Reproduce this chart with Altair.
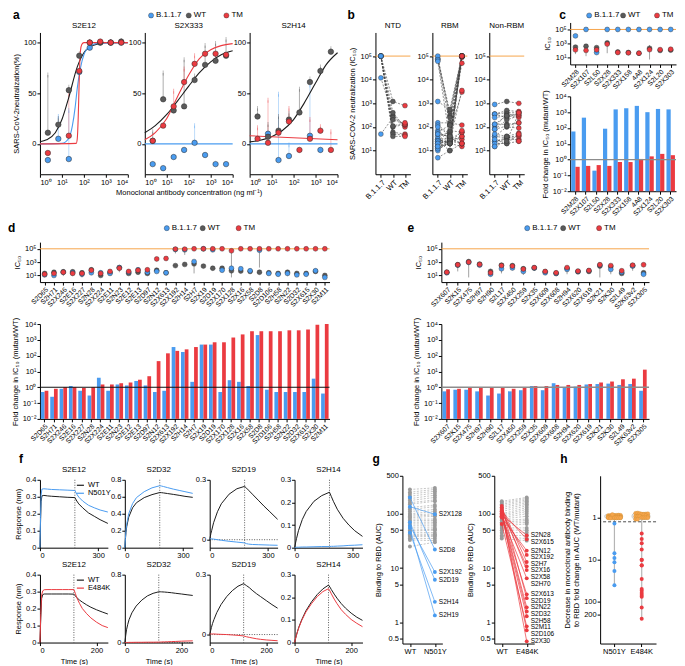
import math
import altair as alt
import pandas as pd

FONT = "Liberation Sans"
BLUE = "#4a9cf0"; RED = "#eb3b41"; GREY = "#5a5a5a"; BLACK = "#1c1c1c"
ORANGE = "#f6a54b"; LGREY = "#a8a8a8"
VAR = ["B.1.1.7", "WT", "TM"]
FILL = alt.Scale(domain=VAR, range=[BLUE, GREY, RED])
STROKE = alt.Scale(domain=VAR, range=[BLUE, BLACK, RED])
POW = "'10' + (datum.value < 1 ? '⁻' : '') + ['⁰','¹','²','³','⁴','⁵'][abs(round(log(datum.value) / LN10))]"
ONE = pd.DataFrame({"r": [0]})  # single row for reference rules

# ---------------- panel a -----------------
A_MABS = ["S2E12", "S2X333", "S2H14"]
A_CONC = [2.29, 6.86, 20.6, 61.7, 185, 556, 1667, 5000]
A_WT = {"S2E12": [11, 19, 53, 87, 100, 100, 100, 101],
        "S2X333": [3, 44, 33, 37, 63, 78, 82, 87],
        "S2H14": [27, 7, 13, 24, 31, 61, 72, 91]}
A_WT_HI = {"S2E12": [68, 25, 56, 89, 101, 101, 101, 102],
           "S2X333": [12, 70, 36, 83, 67, 97, 99, 103],
           "S2H14": [35, 19, 27, 30, 54, 64, 76, 94]}
A_B = {"S2E12": [-16, 5, -15, 71, 95, 100, 100, 100],
       "S2X333": [-20, -24, -13, -6, 1, -11, -20, -20],
       "S2H14": [None, 10, -16, -12, None, 8, -6, None]}
A_B_HI = {"S2E12": [-16, 27, 33, 71, 95, 100, 100, 100],
          "S2X333": [-20, -24, -13, -6, 18, -11, -20, -20],
          "S2H14": [None, 10, 49, -1, None, 58, -6, None]}
A_TM = {"S2E12": [-9, None, 8, 72, 100, 101, 100, 100],
        "S2X333": [3, 18, 37, 61, 79, 89, 89, 88],
        "S2H14": [5, 1, 11, 22, -6, 5, 13, -6]}
A_TM_HI = {"S2E12": [-9, None, 49, 72, 100, 101, 100, 100],
           "S2X333": [3, 18, 52, 74, 87, 89, 89, 88],
           "S2H14": [16, 43, 11, 35, -6, 24, 17, 12]}
A_CURVES = {
    ("S2E12", "WT"): ([1, 2, 5, 10, 20, 50, 100, 200, 500, 1000, 10000],
                      [2, 4, 11, 24, 45, 76, 90, 96, 99, 100, 100]),
    ("S2E12", "B.1.1.7"): ([1, 10, 20, 30, 40, 50, 70, 100, 200, 500, 10000],
                           [0, 0.5, 5, 18, 36, 55, 75, 88, 97, 99.5, 100]),
    ("S2E12", "TM"): ([1, 45, 50, 55, 60, 65, 70, 80, 100, 10000],
                      [0, 0.5, 5, 25, 55, 80, 92, 98, 100, 100]),
    ("S2X333", "WT"): ([1, 3, 10, 30, 100, 300, 1000, 3000, 10000],
                       [11, 18, 29, 42, 57, 70, 81, 88, 92]),
    ("S2X333", "TM"): ([1, 3, 10, 30, 100, 300, 1000, 3000, 10000],
                       [4, 11, 25, 46, 68, 84, 93, 97, 99]),
    ("S2X333", "B.1.1.7"): ([1, 10000], [0, 0]),
    ("S2H14", "WT"): ([1, 3, 10, 30, 100, 300, 1000, 3000, 10000],
                      [2, 3.5, 7, 13, 24, 40, 60, 78, 90]),
    ("S2H14", "TM"): ([1, 10000], [8, 4]),
    ("S2H14", "B.1.1.7"): ([1, 10000], [0, 0]),
}

rows = []
for m in A_MABS:
    for v, vals, his in (("B.1.1.7", A_B, A_B_HI), ("WT", A_WT, A_WT_HI), ("TM", A_TM, A_TM_HI)):
        for c, p, h in zip(A_CONC, vals[m], his[m]):
            if p is not None:
                rows.append({"mab": m, "variant": v, "conc": c, "pct": p, "hi": h})
A_PTS = pd.DataFrame(rows)
rows = []
for (m, v), (xs, ys) in A_CURVES.items():
    for c, p in zip(xs, ys):
        rows.append({"mab": m, "variant": v, "conc": c, "pct": p})
A_CUR = pd.DataFrame(rows)

# ---------------- panel c (NTD) -----------------
C_AB = ["S2M28", "S2X107", "S2L50", "S2X28", "S2X333", "S2X158", "4A8", "S2X124", "S2L20", "S2X303"]
C_B = [1.2e4, 1e5, 50, 1e5, 1e5, 1e5, 1e5, 1e5, 1e5, 1e5]
C_WT = [300, 400, 250, 1200, 60, 50, 40, 200, 100, 110]
C_TM = [120, 100, 120, 800, 50, 45, 40, 130, 130, 150]
C_FB = [60, 450, 0.2, 90, 1500, 1800, 2500, 1000, 1600, 1500]
C_FT = [0.35, 0.4, 0.45, 0.4, 0.7, 0.7, 1.1, 1.6, 2.3, 1.9]
C_ERR_AB = ["S2M28", "S2X107", "S2X28", "S2X124"]
C_ERR_LO = [30, 15, 40, 5]
C_ERR_HI = [400, 500, 1500, 600]

# ---------------- panel d (RBM) -----------------
D_AB = ["S2D65", "S2H71", "S2X246", "S2E16", "S2X227", "S2N28", "S2X224", "S2E11", "S2N23", "S2E12",
        "S2E13", "S2D97", "S2N12", "S2X613", "S2X192", "S2H14", "S2H7", "S2X19", "S2D19", "S2X170",
        "S2X128", "S2X16", "S2X58", "S2D8", "S2D106", "S2H58", "S2N22", "S2D32", "S2X615", "S2X30", "S2M11"]
D_B = [12, 10, 30, 25, 15, 25, 25, 20, 150, 30, 70, 30, 40, 25, 8e4, 7e4, 1200, 1e5, 7e4, 60,
       120, 100, 50, 6e4, 20, 15, 20, 12, 15, 50, 5]
D_WT = [20, 30, 35, 35, 25, 70, 10, 25, 150, 20, 30, 20, 60, 25, 300, 450, 550, 250, 120, 120,
        50, 45, 40, 30, 25, 20, 30, 20, 20, 40, 10]
D_TM = [15, 20, 30, 20, 20, 60, 20, 40, 120, 40, 60, 70, 3000, 3500, 9e4, 9e4, 1e5, 1e5, 1e5, 1e5,
        5e4, 1e5, 1e5, 1e5, 1e5, 1e5, 1e5, 1e5, 1e5, 1e5, 1e5]
D_FB = [0.5, 0.25, 0.8, 1.2, 0.6, 0.3, 4, 0.6, 1.5, 1.3, 2.5, 1.3, 0.5, 0.6, 350, 170, 2.2, 500, 500, 0.5,
        2.8, 2.2, 1.2, 2000, 0.7, 0.5, 0.5, 0.5, 0.5, 3.5, 0.4]
D_FT = [0.6, 0.8, 1.0, 1.0, 0.9, 1.0, 1.5, 1.5, 1.8, 2, 3, 5, 45, 140, 200, 250, 350, 500, 700, 700,
        1400, 2200, 3500, 3500, 3500, 3500, 4000, 4000, 4500, 9000, 10000]
D_ERR_AB = ["S2D65", "S2X246", "S2E16", "S2X227", "S2N23", "S2D97", "S2X192", "S2H14", "S2H7", "S2X128",
            "S2D8", "S2N22", "S2M11"]
D_ERR_LO = [8, 8, 8, 5, 30, 10, 2e4, 1.2e4, 20, 5, 150, 8, 4]
D_ERR_HI = [30, 40, 40, 30, 150, 40, 1e5, 1e5, 800, 6e4, 6e4, 40, 12]

# ---------------- panel e (non-RBM) -----------------
E_AB = ["S2X607", "S2K15", "S2X475", "S2H97", "S2H90", "S2L17", "S2X450", "S2X259", "S2X35", "S2X609",
        "S2X608", "S2H94", "S2X620", "S2X619", "S2K21", "S2K30", "S2L49", "S2K63v2", "S2X305"]
E_B = [25, 350, 900, 350, 15, 100, 130, 40, 130, 25, 20, 80, 40, 50, 350, 80, 30, 250, 15]
E_WT = [30, 400, 1200, 500, 40, 350, 300, 100, 130, 35, 20, 110, 35, 40, 250, 200, 20, 300, 25]
E_TM = [30, 400, 1000, 450, 25, 300, 250, 90, 150, 40, 25, 150, 45, 55, 400, 300, 50, 350, 400]
E_FB = [0.55, 0.7, 0.7, 0.55, 0.3, 0.4, 0.55, 0.65, 1.2, 0.65, 1.8, 0.9, 1.1, 1.5, 1.6, 1.7, 1.4, 1.6, 0.6]
E_FT = [0.75, 0.8, 0.9, 0.9, 0.9, 0.9, 0.8, 0.95, 1.2, 1.2, 1.4, 1.4, 1.4, 1.6, 2.0, 2.3, 3.2, 3.5, 13]
E_ERR_AB = ["S2K15", "S2X475", "S2H90", "S2L17", "S2X259", "S2H94", "S2K21", "S2K30", "S2K63v2"]
E_ERR_LO = [40, 5, 8, 20, 12, 15, 5, 15, 50]
E_ERR_HI = [600, 2000, 100, 500, 100, 200, 500, 300, 600]

# ---------------- panel f (BLI) -----------------
F_T_TOP = [0, 3, 6, 10, 20, 40, 60, 100, 140, 180, 190, 200, 220, 250, 280, 310, 350]
F_T_BOT = [0, 3, 6, 10, 15, 25, 40, 60, 80, 100, 120, 125, 130, 140, 150, 165, 180, 200, 220, 240]
F_TOP = {
    ("S2E12", "WT"): [0, 0.15, 0.27, 0.305, 0.308, 0.305, 0.303, 0.3, 0.297, 0.295, 0.275, 0.258, 0.235, 0.205, 0.185, 0.165, 0.143],
    ("S2E12", "N501Y"): [0, 0.18, 0.31, 0.345, 0.347, 0.345, 0.343, 0.341, 0.339, 0.337, 0.315, 0.298, 0.275, 0.25, 0.235, 0.222, 0.21],
    ("S2D32", "WT"): [0, 0.1, 0.18, 0.25, 0.36, 0.47, 0.53, 0.59, 0.625, 0.65, 0.648, 0.645, 0.638, 0.628, 0.617, 0.605, 0.593],
    ("S2D32", "N501Y"): [0, 0.11, 0.2, 0.28, 0.4, 0.52, 0.59, 0.66, 0.705, 0.73, 0.726, 0.72, 0.708, 0.69, 0.675, 0.66, 0.64],
    ("S2D19", "WT"): [0, 0.015, 0.03, 0.045, 0.085, 0.14, 0.18, 0.228, 0.255, 0.267, 0.258, 0.248, 0.228, 0.198, 0.168, 0.14, 0.102],
    ("S2D19", "N501Y"): [0.005, 0.005, 0.005, 0.004, 0.003, 0.0, -0.003, -0.008, -0.012, -0.016, -0.02, -0.022, -0.024, -0.025, -0.026, -0.027, -0.028],
    ("S2H14", "WT"): [0, 0.012, 0.025, 0.04, 0.075, 0.125, 0.16, 0.205, 0.23, 0.245, 0.225, 0.205, 0.17, 0.13, 0.1, 0.075, 0.05],
    ("S2H14", "N501Y"): [0, 0.001, 0.001, 0.002, 0.002, 0.003, 0.003, 0.004, 0.005, 0.005, 0.006, 0.006, 0.007, 0.008, 0.01, 0.011, 0.013],
}
F_BOT = {
    ("S2E12", "WT"): [0, 0.15, 0.26, 0.283, 0.286, 0.286, 0.286, 0.286, 0.286, 0.286, 0.285, 0.275, 0.265, 0.25, 0.238, 0.222, 0.208, 0.193, 0.18, 0.168],
    ("S2E12", "E484K"): [0, 0.17, 0.28, 0.305, 0.311, 0.312, 0.312, 0.312, 0.312, 0.312, 0.312, 0.29, 0.265, 0.23, 0.2, 0.17, 0.145, 0.12, 0.1, 0.088],
    ("S2D32", "WT"): [0, 0.08, 0.15, 0.21, 0.27, 0.35, 0.43, 0.5, 0.55, 0.58, 0.598, 0.598, 0.597, 0.595, 0.592, 0.587, 0.58, 0.572, 0.563, 0.555],
    ("S2D32", "E484K"): [0, 0, 0.001, 0.001, 0.002, 0.002, 0.003, 0.003, 0.004, 0.004, 0.005, 0.006, 0.007, 0.008, 0.009, 0.011, 0.013, 0.016, 0.018, 0.02],
    ("S2D19", "WT"): [0, 0.018, 0.035, 0.055, 0.075, 0.11, 0.15, 0.19, 0.22, 0.242, 0.255, 0.25, 0.245, 0.235, 0.222, 0.205, 0.19, 0.17, 0.15, 0.132],
    ("S2D19", "E484K"): [0.003, 0.003, 0.003, 0.003, 0.003, 0.002, 0.001, 0, -0.002, -0.004, -0.007, -0.009, -0.011, -0.014, -0.017, -0.021, -0.024, -0.027, -0.029, -0.031],
    ("S2H14", "WT"): [0, 0.015, 0.03, 0.048, 0.068, 0.1, 0.14, 0.18, 0.212, 0.237, 0.254, 0.245, 0.234, 0.214, 0.196, 0.172, 0.152, 0.13, 0.112, 0.098],
    ("S2H14", "E484K"): [0, 0.015, 0.03, 0.046, 0.065, 0.097, 0.135, 0.172, 0.203, 0.225, 0.238, 0.228, 0.215, 0.192, 0.172, 0.145, 0.125, 0.102, 0.085, 0.07],
}
F_MABS = ["S2E12", "S2D32", "S2D19", "S2H14"]
F_YDOM = {"S2E12": [0, 0.4], "S2D32": [0, 0.8], "S2D19": [-0.04, 0.3], "S2H14": [0, 0.3]}
F_YTICKS = {"S2E12": [0, 0.1, 0.2, 0.3, 0.4], "S2D32": [0, 0.2, 0.4, 0.6, 0.8],
            "S2D19": [0, 0.1, 0.2, 0.3], "S2H14": [0, 0.1, 0.2, 0.3]}

# ---------------- panel g / h (RBD binding AUC) -----------------
G1_GREY_WT = [280, 250, 230, 210, 190, 175, 160, 150, 130, 120, 110, 100, 95, 90, 85, 80, 75, 70, 65,
              60, 55, 50, 48, 45, 42, 40, 38, 35, 33, 25]
G1_GREY_MUT = [300, 280, 260, 240, 220, 200, 180, 170, 145, 135, 120, 110, 100, 95, 90, 80, 75, 70, 65,
               60, 55, 52, 50, 45, 42, 40, 38, 35, 32, 30]
G1_HIT = ["S2X128", "S2D8", "S2X192", "S2D19", "S2H14", "S2H19"]
G1_HIT_WT = [135, 200, 60, 70, 45, 55]
G1_HIT_MUT = [98, 22, 8.5, 6.1, 2.4, 1.35]
G2_GREY_WT = [170, 160, 150, 140, 130, 120, 110, 100, 95, 90, 85, 80, 75, 70, 65, 60, 55, 50, 45, 40, 38, 35]
G2_GREY_MUT = [200, 190, 180, 170, 160, 150, 140, 130, 120, 110, 100, 90, 80, 75, 70, 65, 55, 50, 45, 40, 35, 32]
G2_HIT = ["S2N28", "S2X615", "S2N12", "S2X192", "S2H7", "S2X16", "S2X58", "S2H70", "S2X613", "S2D19",
          "S2N22", "S2D32", "S2H58", "S2M11", "S2D106", "S2X30"]
G2_HIT_WT = [95, 110, 85, 100, 130, 110, 125, 90, 95, 140, 105, 100, 90, 65, 100, 115]
G2_HIT_MUT = [40, 34, 21, 17.5, 13, 10.8, 9.2, 6.5, 3.3, 2.8, 1.9, 1.6, 1.3, 0.85, 0.72, 0.45]

G_DOM = [0.41, 500]
G_H = 168


# ================= helpers =================
def gap(w, h=1):
    return alt.Chart(ONE).mark_point(opacity=0).encode(
        x=alt.value(0), y=alt.value(0)).properties(width=w, height=h)


def head(width, letter, ldx, legend=False, left=0, right=0, pad=0.5):
    lay = [alt.Chart(pd.DataFrame({"t": [letter]})).mark_text(
        align="left", baseline="middle", fontSize=12, fontWeight="bold", font=FONT).encode(
        text="t:N", x=alt.value(ldx), y=alt.value(4))]
    if legend:
        dom = ["_l%d" % i for i in range(left)] + VAR + ["_r%d" % i for i in range(right)]
        df = pd.DataFrame({"variant": VAR})
        base = alt.Chart(df).encode(
            x=alt.X("variant:N", axis=None, scale=alt.Scale(type="point", domain=dom, padding=pad)),
            y=alt.value(4))
        lay.append(base.mark_circle(size=26, stroke="#333", strokeWidth=0.4, opacity=1).encode(
            fill=alt.Fill("variant:N", scale=FILL, legend=None)))
        lay.append(base.mark_text(align="left", baseline="middle", dx=5, fontSize=8, font=FONT).encode(
            text="variant:N"))
    return alt.layer(*lay).properties(width=width, height=8)


def a_sub(mab, ytitle, xtitle):
    pts = A_PTS[A_PTS.mab == mab]
    cur = A_CUR[A_CUR.mab == mab]
    xa = alt.Axis(values=[1, 10, 100, 1000, 10000], labelExpr=POW, title=xtitle)
    x = alt.X("conc:Q", scale=alt.Scale(type="log", domain=[1, 10000]), axis=xa)
    ya = alt.Axis(values=[0, 50, 100], title=ytitle)
    y = alt.Y("pct:Q", scale=alt.Scale(domain=[-25, 110]), axis=ya)
    err = alt.Chart(pts).mark_rule(strokeWidth=0.9, opacity=0.4).encode(
        x=x, y=y, y2="hi:Q", stroke=alt.Stroke("variant:N", scale=STROKE, legend=None))
    cap = alt.Chart(pts).mark_tick(thickness=0.9, size=5, opacity=0.45).encode(
        x=x, y="hi:Q", fill=alt.Fill("variant:N", scale=FILL, legend=None))
    lines = alt.Chart(cur).mark_line(strokeWidth=1.1, interpolate="monotone").encode(
        x=x, y=y, stroke=alt.Stroke("variant:N", scale=STROKE, legend=None), detail="variant:N")
    dots = alt.Chart(pts).mark_circle(size=30, opacity=1, stroke="#2b2b2b", strokeWidth=0.5).encode(
        x=x, y=y, fill=alt.Fill("variant:N", scale=FILL, legend=None))
    return (err + cap + lines + dots).properties(width=88, height=142, title=mab)


def b_frame(names, B, WT, TM):
    rows = []
    for i, n in enumerate(names):
        for vi, (v, arr) in enumerate((("B.1.1.7", B), ("WT", WT), ("TM", TM))):
            rows.append({"ab": n, "variant": v, "vi": vi, "ic50": arr[i]})
    return pd.DataFrame(rows)


def b_sub(name, df, ytitle):
    x = alt.X("variant:N", sort=VAR, scale=alt.Scale(type="point", padding=0.45),
              axis=alt.Axis(labelAngle=-45, title=None))
    ya = alt.Axis(values=[10, 100, 1000, 10000, 100000], labelExpr=POW, title=ytitle)
    y = alt.Y("ic50:Q", scale=alt.Scale(type="log", domain=[4, 1.6e5]), axis=ya)
    orange = alt.Chart(ONE).mark_rule(color=ORANGE, strokeWidth=1).encode(y=alt.datum(100000))
    lines = alt.Chart(df).mark_line(strokeDash=[2, 1.5], strokeWidth=0.6, color="#444").encode(
        x=x, y=y, detail="ab:N", order=alt.Order("vi:Q"))
    dots = alt.Chart(df).mark_circle(size=24, opacity=1, stroke="#2b2b2b", strokeWidth=0.4).encode(
        x=x, y=y, fill=alt.Fill("variant:N", scale=FILL, legend=None))
    return alt.layer(orange, lines, dots).properties(width=35, height=142, title=name)


def strip(names, B, WT, TM, eab, elo, ehi, width, height):
    n = len(names)
    df = pd.DataFrame({"ab": names * 3, "variant": ["WT"] * n + ["B.1.1.7"] * n + ["TM"] * n,
                       "ic50": WT + B + TM})
    edf = pd.DataFrame({"ab": eab, "ic50": elo, "hi": ehi})
    x = alt.X("ab:N", sort=names, scale=alt.Scale(type="point", padding=0.5),
              axis=alt.Axis(labelAngle=-45, title=None, labelFontSize=6.8))
    y = alt.Y("ic50:Q", scale=alt.Scale(type="log", domain=[5, 1.4e5]),
              axis=alt.Axis(values=[10, 1000, 100000], labelExpr=POW, title="IC₅₀"))
    orange = alt.Chart(ONE).mark_rule(color=ORANGE, strokeWidth=1).encode(y=alt.datum(100000))
    err = alt.Chart(edf).mark_rule(color="#8a8a8a", strokeWidth=0.8).encode(x=x, y=y, y2="hi:Q")
    dots = alt.Chart(df).mark_circle(size=24, opacity=1, stroke="#2b2b2b", strokeWidth=0.4).encode(
        x=x, y=y, fill=alt.Fill("variant:N", scale=FILL, legend=None))
    return alt.layer(orange, err, dots).properties(width=width, height=height)


def bars(names, FB, FT, width, height, refcolor, refw):
    n = len(names)
    df = pd.DataFrame({"ab": names * 2, "variant": ["B.1.1.7"] * n + ["TM"] * n, "fc": FB + FT})
    x = alt.X("ab:N", sort=names, scale=alt.Scale(paddingInner=0.2, paddingOuter=0.1),
              axis=alt.Axis(labelAngle=-45, title=None, labelFontSize=6.8))
    y = alt.Y("fc:Q", scale=alt.Scale(type="log", domain=[0.01, 10000]),
              axis=alt.Axis(values=[0.01, 0.1, 1, 10, 100, 1000, 10000], labelExpr=POW,
                            title="Fold change in IC₅₀ (mutant/WT)"))
    b = alt.Chart(df).mark_bar().encode(
        x=x, xOffset=alt.XOffset("variant:N", sort=["B.1.1.7", "TM"]), y=y, y2=alt.datum(0.01),
        fill=alt.Fill("variant:N", scale=FILL, legend=None))
    ref = alt.Chart(ONE).mark_rule(color=refcolor, strokeWidth=refw).encode(y=alt.datum(1))
    return alt.layer(b, ref).properties(width=width, height=height)


def f_sub(mab, bottom, first):
    times = F_T_BOT if bottom else F_T_TOP
    src = F_BOT if bottom else F_TOP
    mut = "E484K" if bottom else "N501Y"
    rows = []
    for s in ("WT", mut):
        for t, r in zip(times, src[(mab, s)]):
            rows.append({"t": t, "resp": r, "series": s})
    df = pd.DataFrame(rows)
    xmax = 240 if bottom else 350
    xt = [0, 100, 200] if bottom else [0, 100, 200, 300]
    x = alt.X("t:Q", scale=alt.Scale(domain=[0, xmax], nice=False),
              axis=alt.Axis(values=xt, title="Time (s)" if bottom else None))
    y = alt.Y("resp:Q", scale=alt.Scale(domain=F_YDOM[mab], nice=False),
              axis=alt.Axis(values=F_YTICKS[mab], format="~g",
                            title="Response (nm)" if first else None))
    sc = alt.Scale(domain=["WT", mut], range=[BLACK, RED if bottom else BLUE])
    if first:
        st = alt.Stroke("series:N", scale=sc, sort=["WT", mut],
                        legend=alt.Legend(orient="none", legendX=36, legendY=1, title=None,
                                          symbolType="stroke", symbolSize=50, labelFontSize=7.5,
                                          padding=0, rowPadding=0, symbolStrokeWidth=1.2,
                                          labelOffset=3))
    else:
        st = alt.Stroke("series:N", scale=sc, legend=None)
    lines = alt.Chart(df).mark_line(strokeWidth=1).encode(x=x, y=y, stroke=st)
    vline = alt.Chart(ONE).mark_rule(strokeDash=[1, 1.5], color="#333", strokeWidth=0.8).encode(
        x=alt.datum(120 if bottom else 180))
    layers = [vline]
    if mab == "S2D19" or (bottom and mab == "S2D32"):
        layers.append(alt.Chart(ONE).mark_rule(strokeDash=[1, 1.5], color="#333", strokeWidth=0.8)
                      .encode(y=alt.datum(0)))
    layers.append(lines)
    return alt.layer(*layers).properties(width=68, height=68, title=mab)


def spread_labels(vals, min_px):
    # push text labels apart (in log space) so they do not overlap
    ppd = G_H / math.log10(G_DOM[1] / G_DOM[0])
    gd = min_px / ppd
    order = sorted(range(len(vals)), key=lambda i: -vals[i])
    out = [0.0] * len(vals)
    prev = None
    for i in order:
        lv = math.log10(vals[i])
        if prev is not None and lv > prev - gd:
            lv = prev - gd
        out[i] = 10 ** lv
        prev = lv
    return out


def g_sub(mut, gw, gm, hits, hw, hm, color):
    lab_y = spread_labels(hm, 6.6)
    rows = []
    for i, (a, b) in enumerate(zip(gw, gm)):
        rows.append({"ab": "g%d" % i, "cond": "WT", "ci": 0, "auc": a, "hit": False, "lab": "", "ly": a})
        rows.append({"ab": "g%d" % i, "cond": mut, "ci": 1, "auc": b, "hit": False, "lab": "", "ly": b})
    for n, a, b, ly in zip(hits, hw, hm, lab_y):
        rows.append({"ab": n, "cond": "WT", "ci": 0, "auc": a, "hit": True, "lab": "", "ly": a})
        rows.append({"ab": n, "cond": mut, "ci": 1, "auc": b, "hit": True, "lab": n, "ly": ly})
    df = pd.DataFrame(rows)
    x = alt.X("cond:N", sort=["WT", mut], scale=alt.Scale(type="point", padding=0.3),
              axis=alt.Axis(labelAngle=0, title=None))
    ysc = alt.Scale(type="log", domain=G_DOM)
    y = alt.Y("auc:Q", scale=ysc,
              axis=alt.Axis(values=[0.5, 1, 5, 10, 50, 100, 500], format="~g", title="Binding to RBD (AUC)"))
    grey = df[~df.hit]
    hit = df[df.hit]
    gl = alt.Chart(grey).mark_line(strokeDash=[2, 1.5], strokeWidth=0.6, color="#a0a0a0").encode(
        x=x, y=y, detail="ab:N", order=alt.Order("ci:Q"))
    gp = alt.Chart(grey).mark_circle(size=15, color="#9a9a9a", opacity=1).encode(x=x, y=y)
    hl = alt.Chart(hit).mark_line(strokeWidth=0.7, color=color).encode(
        x=x, y=y, detail="ab:N", order=alt.Order("ci:Q"))
    hp = alt.Chart(hit).mark_circle(size=15, color=color, opacity=1).encode(x=x, y=y)
    tx = alt.Chart(hit[hit.ci == 1]).mark_text(align="left", dx=4, fontSize=6.5, font=FONT).encode(
        x=x, y=alt.Y("ly:Q", scale=ysc), text="lab:N")
    return alt.layer(gl, gp, hl, hp, tx).properties(width=40, height=G_H)


def h_frame():
    rows = []
    for mut, gw, gm, hw, hm in (("N501Y", G1_GREY_WT, G1_GREY_MUT, G1_HIT_WT, G1_HIT_MUT),
                                ("E484K", G2_GREY_WT, G2_GREY_MUT, G2_HIT_WT, G2_HIT_MUT)):
        for a, b in zip(gw, gm):
            rows.append({"mut": mut, "fold": a / b, "hit": "no"})
        for a, b in zip(hw, hm):
            rows.append({"mut": mut, "fold": a / b, "hit": mut})
    return pd.DataFrame(rows)


def h_chart():
    df = h_frame()
    x = alt.X("mut:N", sort=["N501Y", "E484K"], scale=alt.Scale(paddingInner=0.25, paddingOuter=0.15),
              axis=alt.Axis(labelAngle=0, title=None))
    ysc = alt.Scale(type="log", domain=[0.4, 300], reverse=True)
    yax = alt.Axis(values=[1, 10, 100, 200], format="~g",
                   title=["Decrease in monoclonal antibody binding",
                          "to RBD fold change in AUC (WT/mutant)"])
    y = alt.Y("fold:Q", scale=ysc, axis=yax)
    rng = alt.Chart(df).mark_rule(color="#b5b5b5", strokeWidth=1.2).encode(
        x=x, y=alt.Y("min(fold):Q", scale=ysc, axis=yax), y2="max(fold):Q")
    blob = alt.Chart(df).transform_filter("datum.hit == 'no'").mark_bar(
        width=alt.RelativeBandSize(0.95), cornerRadius=5, fill="#ececec", stroke="#bdbdbd",
        strokeWidth=0.8).encode(x=x, y=alt.Y("min(fold):Q", scale=ysc), y2="max(fold):Q")
    dash = alt.Chart(ONE).mark_rule(strokeDash=[3, 2], color="#222", strokeWidth=0.8).encode(y=alt.datum(1.25))
    orange = alt.Chart(df).transform_filter("datum.hit == 'no'").transform_window(
        rank="row_number()", groupby=["mut"]).transform_calculate(
        jit="(datum.rank % 7) - 3").mark_circle(size=16, color=ORANGE, opacity=1, stroke="#c98a30",
                                                strokeWidth=0.3).encode(
        x=x, xOffset=alt.XOffset("jit:Q", scale=alt.Scale(domain=[-5, 5])), y=y)
    hits = alt.Chart(df).transform_filter("datum.hit != 'no'").mark_circle(size=16, opacity=1).encode(
        x=x, y=y, color=alt.Color("hit:N", scale=alt.Scale(domain=["N501Y", "E484K"], range=[BLUE, RED]),
                                  legend=None))
    return alt.layer(rng, blob, dash, orange, hits).properties(width=56, height=G_H)


FL = dict(bounds="flush")

# ================= assemble =================
A_W = 3 * 88 + 2 * 17
panel_a = alt.vconcat(
    head(A_W, "a", -27, legend=True, left=2, right=2, pad=0.95),
    alt.hconcat(a_sub("S2E12", "SARS-CoV-2neutralization(%)", None),
                a_sub("S2X333", None, "Monoclonal antibody concentration (ng ml⁻¹)"),
                a_sub("S2H14", None, None), spacing=17, **FL),
    spacing=1)

B_W = 3 * 35 + 2 * 22
panel_b = alt.vconcat(
    head(B_W, "b", -28),
    alt.hconcat(
        b_sub("NTD", b_frame(C_AB, C_B, C_WT, C_TM), "SARS-COV-2 neutralization (IC₅₀)"),
        b_sub("RBM", b_frame(D_AB, D_B, D_WT, D_TM), None),
        b_sub("Non-RBM", b_frame(E_AB, E_B, E_WT, E_TM), None),
        spacing=22, **FL),
    spacing=1)

panel_c = alt.vconcat(
    head(106, "c", -11, legend=True, pad=0.56), gap(1, 3),
    strip(C_AB, C_B, C_WT, C_TM, C_ERR_AB, C_ERR_LO, C_ERR_HI, 106, 42), gap(1, 32),
    bars(C_AB, C_FB, C_FT, 106, 95, "#8c8c8c", 1.4), spacing=0, **FL)

panel_d = alt.vconcat(
    head(290, "d", -32, legend=True, left=3, right=2, pad=0.53), gap(1, 10),
    strip(D_AB, D_B, D_WT, D_TM, D_ERR_AB, D_ERR_LO, D_ERR_HI, 290, 40), gap(1, 42),
    bars(D_AB, D_FB, D_FT, 290, 95, "#111", 1.0), spacing=0, **FL)

panel_e = alt.vconcat(
    head(208, "e", -34, legend=True, left=2, right=1, pad=0.39), gap(1, 10),
    strip(E_AB, E_B, E_WT, E_TM, E_ERR_AB, E_ERR_LO, E_ERR_HI, 208, 40), gap(1, 42),
    bars(E_AB, E_FB, E_FT, 208, 95, "#8c8c8c", 1.4), spacing=0, **FL)

F_W = 4 * 68 + 3 * 17
panel_f = alt.vconcat(
    head(F_W, "f", -21),
    alt.hconcat(*[f_sub(m, False, i == 0) for i, m in enumerate(F_MABS)], spacing=17, **FL),
    alt.hconcat(*[f_sub(m, True, i == 0) for i, m in enumerate(F_MABS)], spacing=17, **FL),
    spacing=1).resolve_scale(stroke="independent")

panel_g = alt.vconcat(
    head(132, "g", -30),
    alt.hconcat(
        g_sub("N501Y", G1_GREY_WT, G1_GREY_MUT, G1_HIT, G1_HIT_WT, G1_HIT_MUT, BLUE),
        g_sub("E484K", G2_GREY_WT, G2_GREY_MUT, G2_HIT, G2_HIT_WT, G2_HIT_MUT, RED),
        spacing=52, **FL),
    spacing=7)

panel_h = alt.vconcat(head(56, "h", -40), h_chart(), spacing=11)

row1 = alt.hconcat(panel_a, gap(4), panel_b, gap(13), panel_c, spacing=0)
row2 = alt.hconcat(panel_d, gap(74), panel_e, spacing=0)
row3 = alt.hconcat(panel_f, gap(5), panel_g, gap(1), panel_h, spacing=0)

chart = alt.vconcat(row1, row2, row3, spacing=4).resolve_scale(
    fill="independent", stroke="independent", color="independent").properties(padding=0).configure(
    font=FONT).configure_axis(
    labelFont=FONT, titleFont=FONT, labelFontSize=7.5, titleFontSize=7.5, titleFontWeight="normal",
    grid=False, domainColor="#000", tickColor="#000", labelColor="#000", titleColor="#000",
    tickSize=3, labelPadding=1, titlePadding=3).configure_view(stroke=None).configure_title(
    font=FONT, fontSize=8, fontWeight="normal", offset=2)

chart.save("out.html", embed_options={"renderer": "svg", "actions": False})
